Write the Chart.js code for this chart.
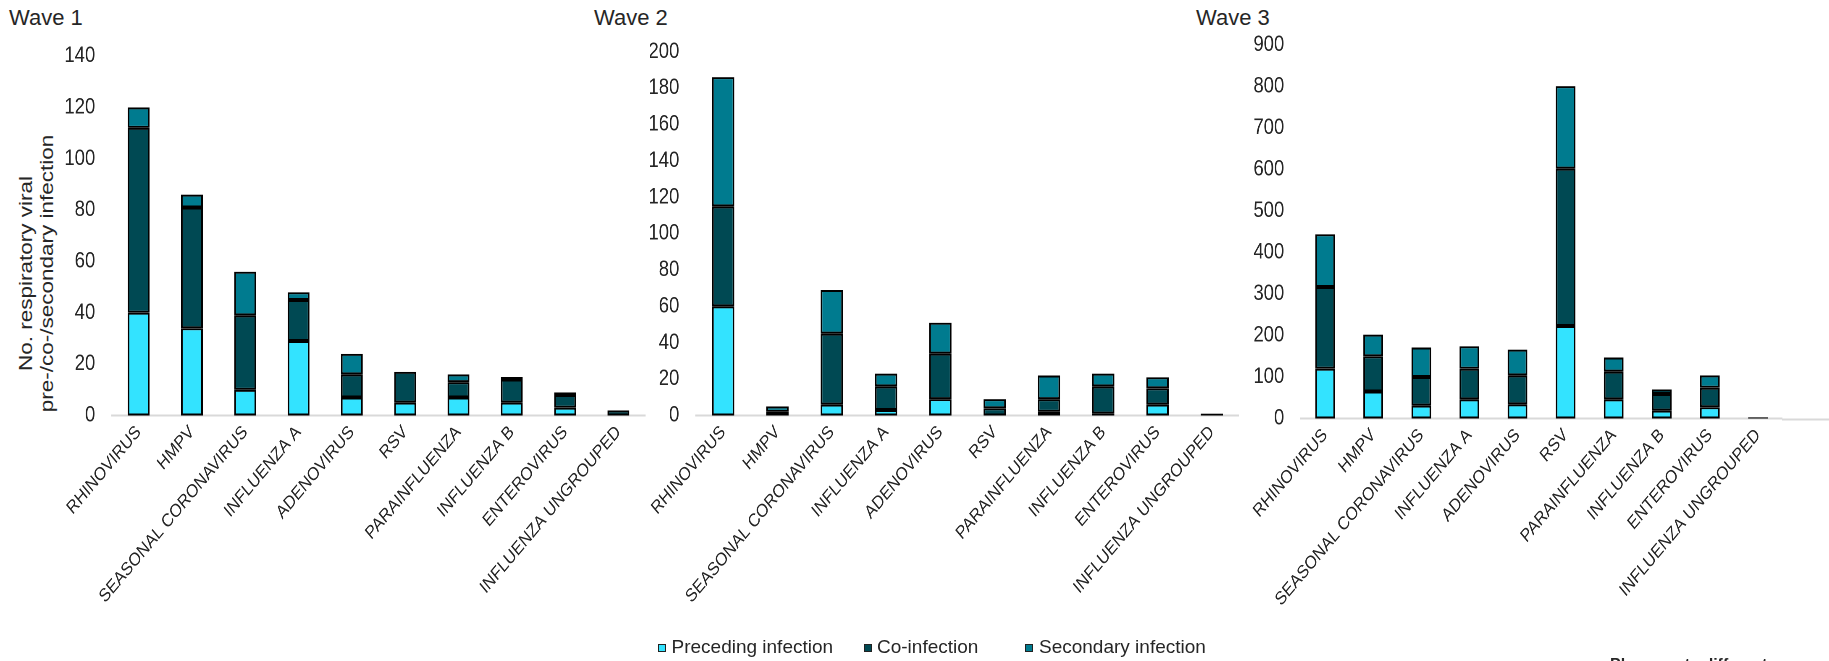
<!DOCTYPE html>
<html><head><meta charset="utf-8">
<script src="https://cdn.jsdelivr.net/npm/chart.js@4.4.1/dist/chart.umd.min.js"></script>
<style>
html,body{margin:0;padding:0;background:#fff;width:1829px;height:661px;overflow:hidden;font-family:"Liberation Sans",Arial,sans-serif;color:#262626;}
.panel{position:absolute;top:0;transform-origin:0 0;transform:scaleX(0.84);}
.wtitle{position:absolute;top:7px;font-size:22px;line-height:22px;white-space:nowrap;color:#262626;}
.ytitle{position:absolute;left:-113px;top:248.6px;width:300px;height:49px;font-size:22.5px;line-height:24.4px;text-align:center;white-space:nowrap;transform-origin:50% 50%;transform:scaleX(0.84) rotate(-90deg);color:#262626;}
.leg{position:absolute;top:637px;font-size:19px;line-height:19px;white-space:nowrap;color:#262626;}
.box{position:absolute;top:644px;width:6px;height:6px;border:1px solid #222;}
.note{position:absolute;left:1610px;top:657px;font-size:16px;line-height:16px;font-weight:bold;white-space:nowrap;color:#262626;}
</style></head><body>
<div class="wtitle" style="left:9px">Wave 1</div>
<div class="wtitle" style="left:594px">Wave 2</div>
<div class="wtitle" style="left:1196px">Wave 3</div>
<div class="ytitle">No. respiratory viral<br>pre-/co-/secondary infection</div>
<div class="panel" style="left:0px"><canvas id="c1" width="773" height="661"></canvas></div>
<div class="panel" style="left:650px"><canvas id="c2" width="706" height="661"></canvas></div>
<div class="panel" style="left:1244px"><canvas id="c3" width="697" height="661"></canvas></div>
<div id="legend"></div>
<div class="note">Please note different<br>y-axis scales</div>
<script>
const categories = ['RHINOVIRUS','HMPV','SEASONAL CORONAVIRUS','INFLUENZA A','ADENOVIRUS','RSV','PARAINFLUENZA','INFLUENZA B','ENTEROVIRUS','INFLUENZA UNGROUPED'];
const seriesNames = ['Preceding infection','Co-infection','Secondary infection'];
const seriesColors = ['#33E3FF','#004953','#007B8F'];

const wave1Preceding = [40,34,10,29,7,5,7,5,3,0];
const wave1Co        = [72,47,29,16,9,12,6,9,5,2];
const wave1Secondary = [8,5,17,3,8,0,3,1,1,0];

const wave2Preceding = [60,0,6,3,9,0,2,1,6,0];
const wave2Co        = [55,2,39,13,25,4,7,15,9,1];
const wave2Secondary = [71,3,24,7,17,5,13,7,6,0];

const wave3Preceding = [120,65,31,46,34,223,46,19,27,0];
const wave3Co        = [197,85,69,74,70,379,67,40,47,3];
const wave3Secondary = [127,52,71,54,62,199,34,11,30,0];

const yMax  = [140, 200, 900];
const yStep = [20, 20, 100];

const FONT = '"Liberation Sans", Arial, sans-serif';
const TEXT = '#262626';

const extendAxisPlugin = {
  id: 'extendAxis',
  afterDraw(chart, args, opts) {
    if (!opts || !opts.enabled) return;
    const xs = chart.scales.x, ctx = chart.ctx;
    ctx.save();
    ctx.strokeStyle = opts.color; ctx.lineWidth = opts.width;
    ctx.beginPath();
    ctx.moveTo(chart.chartArea.right, xs.top + opts.width/2);
    ctx.lineTo(chart.width, xs.top + opts.width/2);
    ctx.stroke();
    ctx.restore();
  }
};

function makeChart(id, pre, co, sec, idx, geo) {
  const vals = [pre, co, sec];
  const datasets = seriesNames.map((n, i) => ({
    label: n, data: vals[i], backgroundColor: seriesColors[i],
    borderColor: '#000', borderWidth: 2, borderSkipped: false,
    categoryPercentage: 1, barPercentage: 0.41
  }));
  return new Chart(document.getElementById(id), {
    type: 'bar',
    data: { labels: categories, datasets },
    plugins: [extendAxisPlugin],
    options: {
      responsive: false, animation: false, devicePixelRatio: 2,
      layout: { padding: { top: geo.top, right: geo.padRight, left: 0, bottom: 0 } },
      plugins: { legend: { display: false }, tooltip: { enabled: false },
                 extendAxis: { enabled: !!geo.extend, color: '#d9d9d9', width: 2 } },
      scales: {
        x: {
          stacked: true,
          grid: { display: false, drawTicks: false },
          border: { display: true, color: '#d9d9d9', width: 2 },
          ticks: { autoSkip: false, maxRotation: 45, minRotation: 45, padding: 6,
                   color: TEXT, font: { family: FONT, size: 18.5 } },
          afterFit(s) { s.height = geo.xHeight; s.paddingLeft = 0; s.paddingRight = 0; }
        },
        y: {
          stacked: true, min: 0, max: yMax[idx],
          grid: { display: false, drawTicks: false },
          border: { display: false },
          ticks: { stepSize: yStep[idx], padding: 20, color: TEXT, font: { family: FONT, size: 22 } },
          afterFit(s) { s.width = geo.yWidth; }
        }
      }
    }
  });
}

makeChart('c1', wave1Preceding, wave1Co, wave1Secondary, 0,
  { top: 56, padRight: 5.1, xHeight: 661 - 415.5, yWidth: 133.3 });
makeChart('c2', wave2Preceding, wave2Co, wave2Secondary, 1,
  { top: 51.7, padRight: 4.8, xHeight: 661 - 415.5, yWidth: 54.8 });
makeChart('c3', wave3Preceding, wave3Co, wave3Secondary, 2,
  { top: 45, padRight: 56.5, xHeight: 661 - 418.5, yWidth: 67.9, extend: true });

// HTML legend
const legendPos = [[658, 671.5], [864, 877], [1025, 1039]];
const legendEl = document.getElementById('legend');
seriesNames.forEach((n, i) => {
  const b = document.createElement('div');
  b.className = 'box'; b.style.left = legendPos[i][0] + 'px'; b.style.background = seriesColors[i];
  const t = document.createElement('div');
  t.className = 'leg'; t.style.left = legendPos[i][1] + 'px'; t.textContent = n;
  legendEl.appendChild(b); legendEl.appendChild(t);
});
</script>
</body></html>
